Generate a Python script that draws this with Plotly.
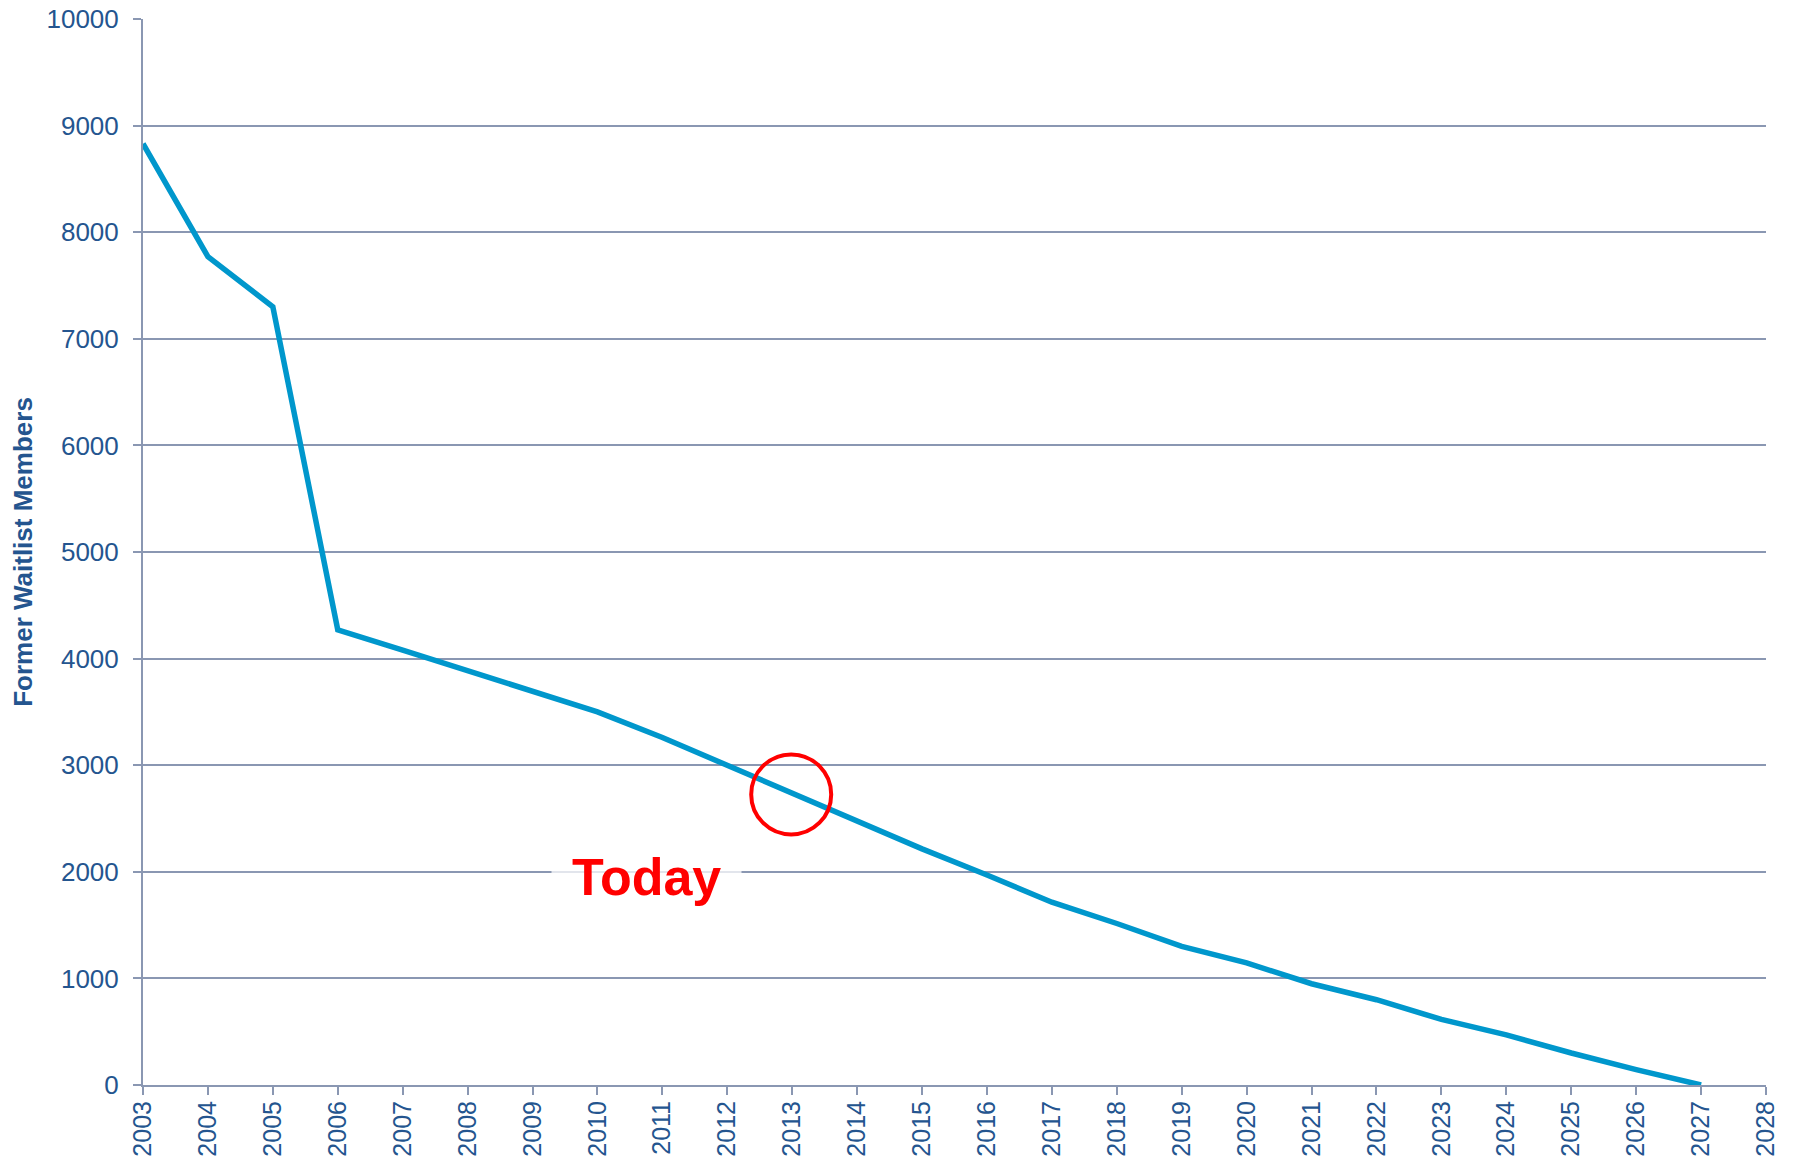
import plotly.graph_objects as go

years = list(range(2003, 2028))
members = [8830, 7770, 7300, 4270, 4080, 3890, 3700, 3500, 3260, 3000,
           2745, 2480, 2215, 1970, 1715, 1515, 1300, 1145, 950, 800,
           615, 470, 300, 145, 0]
x_ticks = list(range(2003, 2029))
y_ticks = list(range(0, 10001, 1000))
today_year = 2013
y_title = "Former Waitlist Members"
today_label = "Today"

GRID = "#8a97b2"
TXT = "#24558f"
FONT = "Liberation Sans, Arial, sans-serif"

fig = go.Figure()
fig.add_trace(go.Scatter(
    x=years, y=members, mode="lines",
    line=dict(color="#0097cc", width=5.5),
    hoverinfo="x+y", showlegend=False,
))

today_val = members[years.index(today_year)]
fig.add_shape(
    type="circle", xref="x", yref="y",
    xsizemode="pixel", ysizemode="pixel",
    xanchor=today_year, yanchor=today_val,
    x0=-41, x1=39, y0=-42, y1=38,
    line=dict(color="#ff0000", width=4),
)
fig.add_annotation(
    x=2010.75, y=1950, xref="x", yref="y",
    text="<b>" + today_label + "</b>", showarrow=False,
    font=dict(family=FONT, size=52, color="#ff0000"),
    bgcolor="rgba(255,255,255,0.75)", borderpad=20,
)

# page body adds an 8px offset, so the figure is sized to fit the window
fig.update_layout(
    width=1785, height=1157,
    margin=dict(l=135, r=27, t=11, b=80, autoexpand=False),
    plot_bgcolor="white", paper_bgcolor="white",
    font=dict(family=FONT, color=TXT, size=26),
    xaxis=dict(
        range=[2003, 2028], tickvals=x_ticks, ticktext=[str(v) for v in x_ticks],
        tickangle=-90, showgrid=False, zeroline=False, automargin=False,
        showline=True, linecolor=GRID, linewidth=2,
        ticks="outside", ticklen=8, tickcolor=GRID, tickwidth=2,
        tickfont=dict(family=FONT, size=25, color=TXT),
        ticklabelstandoff=-4, ticklabeloverflow="allow",
    ),
    yaxis=dict(
        range=[0, 10000], tickvals=y_ticks, ticktext=[str(v) for v in y_ticks],
        showgrid=True, gridcolor=GRID, gridwidth=1.5, zeroline=False, automargin=False,
        showline=True, linecolor=GRID, linewidth=2,
        ticks="outside", ticklen=8, tickcolor=GRID, tickwidth=2,
        tickfont=dict(family=FONT, size=26, color=TXT),
        ticklabelstandoff=9, ticklabeloverflow="allow",
        title=dict(text="<b>" + y_title + "</b>", font=dict(family=FONT, size=26, color=TXT), standoff=21),
    ),
)

fig.write_html("out.html")
